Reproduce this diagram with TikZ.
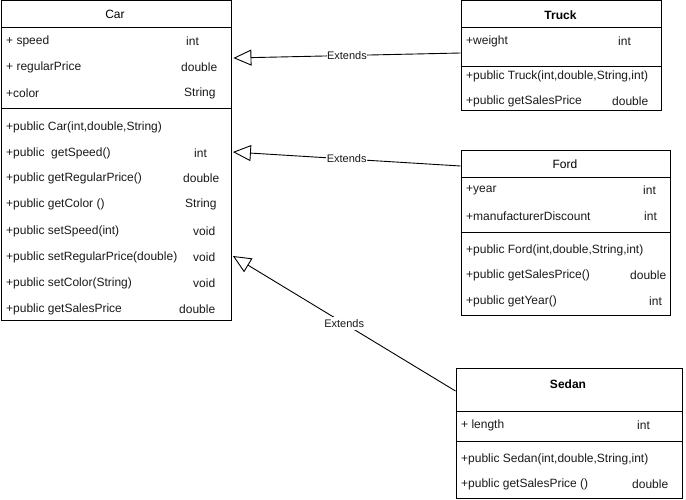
\documentclass[tikz,border=0pt]{standalone}
\usepackage{fontspec}
\setmainfont{Liberation Sans}
\usetikzlibrary{arrows.meta}
\begin{document}
\begin{tikzpicture}[x=1pt,y=-1pt,
  umlbox/.style={draw, line width=0.9pt, inner sep=0pt, anchor=north west},
  sep/.style={line width=0.9pt},
  txt/.style={anchor=west, inner sep=0pt, yshift=-1pt, font=\fontsize{12}{14}\selectfont, text=black!90},
  ttl/.style={anchor=center, inner sep=0pt, yshift=-1pt, font=\fontsize{12}{14}\selectfont},
  ext/.style={line width=0.9pt, -{Triangle[open,length=18pt,width=16pt,fill=white]}},
  lbl/.style={fill=white, inner sep=0.5pt, font=\fontsize{11}{13}\selectfont, text=black!90}]
\useasboundingbox (0,0) rectangle (686,500);
% ---------- Car ----------
\node[umlbox, minimum width=230pt, minimum height=319pt] (car) at (0.5,0.5) {};
\draw[sep] (car.west |- 0,27) -- (car.east |- 0,27);
\draw[sep] (car.west |- 0,108) -- (car.east |- 0,108);
\node[ttl] (cart) at (115,13) {Car};
\node[txt] (c1) at (6,40) {+ speed};
\node[txt] (c1t) at (186,40) {int};
\node[txt] (c2) at (6,66) {+ regularPrice};
\node[txt] (c2t) at (181,66) {double};
\node[txt] (c3) at (6,92) {+color};
\node[txt] (c3t) at (184,92) {String};
\node[txt] (m1) at (6,126) {+public Car(int,double,String)};
\node[txt] (m2) at (6,152) {+public\ \ getSpeed()};
\node[txt] (m2t) at (194,152) {int};
\node[txt] (m3) at (6,177) {+public getRegularPrice()};
\node[txt] (m3t) at (183,177) {double};
\node[txt] (m4) at (6,203) {+public getColor ()};
\node[txt] (m4t) at (185,203) {String};
\node[txt] (m5) at (6,230) {+public setSpeed(int)};
\node[txt] (m5t) at (193,230) {void};
\node[txt] (m6) at (6,256) {+public setRegularPrice(double)};
\node[txt] (m6t) at (193,256) {void};
\node[txt] (m7) at (6,282) {+public setColor(String)};
\node[txt] (m7t) at (193,282) {void};
\node[txt] (m8) at (6,308) {+public getSalesPrice};
\node[txt] (m8t) at (179,308) {double};
% ---------- Truck ----------
\node[umlbox, minimum width=200pt, minimum height=110pt] (truck) at (460.5,0.5) {};
\draw[sep] (truck.west |- 0,27) -- (truck.east |- 0,27);
\draw[sep] (truck.west |- 0,66) -- (truck.east |- 0,66);
\node[ttl, font=\fontsize{12}{14}\selectfont\bfseries] (trt) at (560.5,14) {Truck};
\node[txt] (t1) at (466,40) {+weight};
\node[txt] (t1t) at (618,40) {int};
\node[txt] (t2) at (466,75) {+public Truck(int,double,String,int)};
\node[txt] (t3) at (466,100) {+public getSalesPrice};
\node[txt] (t3t) at (612,100) {double};
% ---------- Ford ----------
\node[umlbox, minimum width=209pt, minimum height=165pt] (ford) at (460.5,150) {};
\draw[sep] (ford.west |- 0,177) -- (ford.east |- 0,177);
\draw[sep] (ford.west |- 0,232) -- (ford.east |- 0,232);
\node[ttl] (fot) at (565,163) {Ford};
\node[txt] (f1) at (466,189) {+year};
\node[txt] (f1t) at (643,189) {int};
\node[txt] (f2) at (466,215) {+manufacturerDiscount};
\node[txt] (f2t) at (644,215) {int};
\node[txt] (f3) at (466,249) {+public Ford(int,double,String,int)};
\node[txt] (f4) at (466,274) {+public getSalesPrice()};
\node[txt] (f4t) at (630,274) {double};
\node[txt] (f5) at (466,300) {+public getYear()};
\node[txt] (f5t) at (649,300) {int};
% ---------- Sedan ----------
\node[umlbox, minimum width=226pt, minimum height=130pt] (sedan) at (455.5,367.5) {};
\draw[sep] (sedan.west |- 0,411) -- (sedan.east |- 0,411);
\draw[sep] (sedan.west |- 0,441) -- (sedan.east |- 0,441);
\node[ttl, font=\fontsize{12}{14}\selectfont\bfseries] (set) at (568,383) {Sedan};
\node[txt] (s1) at (461,424) {+ length};
\node[txt] (s1t) at (637,424) {int};
\node[txt] (s2) at (461,458) {+public Sedan(int,double,String,int)};
\node[txt] (s3) at (461,483) {+public getSalesPrice ()};
\node[txt] (s3t) at (632,483) {double};
% ---------- Connectors ----------
\draw[ext] (truck.west |- 0,53) -- node[lbl]{Extends} ([xshift=2pt]car.east |- 0,58);
\draw[ext] (ford.west |- 0,166) -- node[lbl]{Extends} ([xshift=1.5pt]car.east |- 0,152);
\draw[ext] (sedan.west |- 0,391) -- node[lbl, inner sep=2.5pt]{Extends} ([xshift=1.5pt]car.east |- 0,256);
\end{tikzpicture}
\end{document}
